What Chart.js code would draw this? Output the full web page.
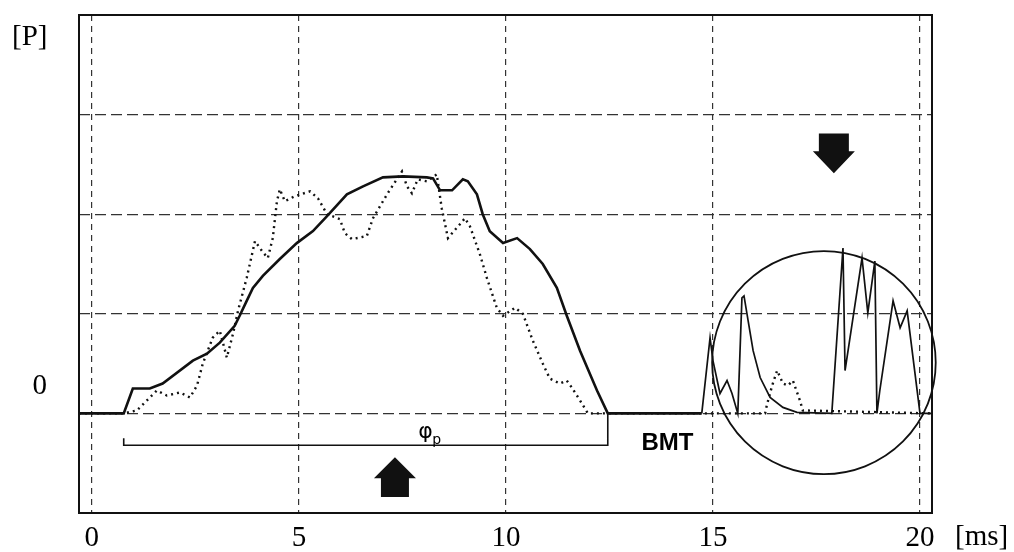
<!DOCTYPE html>
<html>
<head>
<meta charset="utf-8">
<script src="https://cdn.jsdelivr.net/npm/chart.js@4"></script>
<style>
body{margin:0;background:#fff}
#wrap{width:1014px;height:552px}
</style>
</head>
<body>
<div id="wrap"><canvas id="myChart"></canvas></div>
<script>
// time [ms] and pressure [P] (baseline = 0)
const solidT = [-0.31, 0.77, 0.99, 1.40, 1.71, 2.44, 2.78, 3.09, 3.45, 3.57, 3.74, 3.89, 4.13, 4.54, 4.95, 5.34, 5.68, 6.16, 6.55, 7.03, 7.51, 8.09, 8.24, 8.41, 8.70, 8.96, 9.08, 9.30, 9.44, 9.61, 9.93, 10.27, 10.58, 10.89, 11.23, 11.47, 11.79, 12.20, 12.46, 14.73, 14.93, 15.00, 15.17, 15.34, 15.46, 15.60, 15.70, 15.75, 15.85, 15.97, 16.14, 16.38, 16.69, 17.03, 17.87, 18.14, 18.19, 18.60, 18.74, 18.91, 18.96, 19.03, 19.35, 19.52, 19.69, 20.00, 20.29];
const solidP = [0, 0, 0.25, 0.25, 0.30, 0.53, 0.60, 0.71, 0.88, 0.98, 1.13, 1.26, 1.38, 1.55, 1.71, 1.83, 1.98, 2.20, 2.28, 2.37, 2.38, 2.37, 2.36, 2.24, 2.24, 2.35, 2.33, 2.20, 2.00, 1.83, 1.71, 1.76, 1.65, 1.50, 1.26, 0.98, 0.63, 0.23, 0, 0, 0.76, 0.53, 0.20, 0.33, 0.20, 0, 1.16, 1.18, 0.93, 0.63, 0.36, 0.16, 0.06, 0.01, 0, 1.66, 0.43, 1.56, 1.01, 1.53, 0, 0.23, 1.13, 0.86, 1.03, 0, 0];

const dotT = [-0.31, 0.77, 1.09, 1.33, 1.57, 1.81, 2.13, 2.37, 2.54, 2.68, 2.92, 3.09, 3.26, 3.41, 3.53, 3.74, 3.94, 4.11, 4.25, 4.37, 4.47, 4.54, 4.66, 4.90, 5.27, 5.46, 5.68, 5.99, 6.11, 6.28, 6.64, 6.79, 7.13, 7.49, 7.61, 7.73, 7.87, 8.09, 8.33, 8.45, 8.60, 8.89, 9.01, 9.13, 9.37, 9.54, 9.78, 9.93, 10.22, 10.41, 10.65, 10.89, 11.06, 11.30, 11.47, 11.59, 11.79, 11.98, 16.26, 16.30, 16.43, 16.55, 16.69, 16.81, 16.93, 17.10, 17.17, 20.29];
const dotP = [0, 0, 0.03, 0.13, 0.23, 0.18, 0.21, 0.16, 0.28, 0.50, 0.76, 0.83, 0.56, 0.80, 1.03, 1.36, 1.73, 1.63, 1.56, 1.76, 2.13, 2.25, 2.13, 2.18, 2.23, 2.16, 2.00, 1.95, 1.81, 1.75, 1.78, 1.96, 2.20, 2.43, 2.28, 2.21, 2.35, 2.33, 2.40, 2.06, 1.76, 1.90, 1.96, 1.88, 1.60, 1.36, 1.06, 0.98, 1.06, 1.00, 0.73, 0.50, 0.35, 0.30, 0.33, 0.26, 0.13, 0, 0, 0.08, 0.28, 0.43, 0.30, 0.28, 0.33, 0.13, 0.03, 0];

// phi_p bracket under the pulse
const phiT = [0.77, 0.77, 12.46, 12.46];
const phiP = [-0.25, -0.32, -0.32, 0];

const xTicks = [0, 5, 10, 15, 20];
const yTicks = [-1, 0, 1, 2, 3, 4];

const pts = (t, p) => t.map((v, i) => ({x: v, y: p[i]}));
const serif = 'Liberation Serif';

// frame, circle, arrows and the loose labels
const extras = {
  id: 'extras',
  afterDraw(chart) {
    const {ctx, chartArea: a, scales: {x, y}} = chart;
    ctx.save();
    ctx.strokeStyle = '#111';
    ctx.fillStyle = '#111';
    ctx.lineWidth = 2;
    ctx.strokeRect(a.left, a.top, a.right - a.left, a.bottom - a.top);

    // circle round the BMT part
    const cx = x.getPixelForValue(17.68), cy = y.getPixelForValue(0.51);
    const rx = x.getPixelForValue(17.68 + 2.7) - cx;
    const ry = cy - y.getPixelForValue(0.51 + 1.12);
    ctx.lineWidth = 1.8;
    ctx.beginPath();
    ctx.ellipse(cx, cy, rx, ry, 0, 0, Math.PI * 2);
    ctx.stroke();

    const arrow = (xv, tailV, tipV, bodyW, headW, headH) => {
      const px = x.getPixelForValue(xv);
      const tail = y.getPixelForValue(tailV), tip = y.getPixelForValue(tipV);
      const dir = tip < tail ? 1 : -1;
      const neck = tip + dir * headH;
      ctx.beginPath();
      ctx.moveTo(px, tip);
      ctx.lineTo(px + headW / 2, neck);
      ctx.lineTo(px + bodyW / 2, neck);
      ctx.lineTo(px + bodyW / 2, tail);
      ctx.lineTo(px - bodyW / 2, tail);
      ctx.lineTo(px - bodyW / 2, neck);
      ctx.lineTo(px - headW / 2, neck);
      ctx.closePath();
      ctx.fill();
    };
    arrow(7.32, -0.84, -0.44, 28, 42, 21);
    arrow(17.92, 2.81, 2.41, 30, 42, 22);

    ctx.fillStyle = '#000';
    ctx.textBaseline = 'middle';
    ctx.textAlign = 'left';
    ctx.font = '29px ' + serif;
    ctx.fillText('[P]', 12, 37);
    ctx.fillText('[ms]', x.getPixelForValue(20) + 35, 537);

    ctx.font = '22px DejaVu Sans';
    ctx.textAlign = 'center';
    ctx.fillText('φ', x.getPixelForValue(8.06), y.getPixelForValue(-0.19));
    ctx.font = '14px DejaVu Sans';
    ctx.fillText('p', x.getPixelForValue(8.33), y.getPixelForValue(-0.27));

    ctx.font = 'bold 24px Liberation Sans';
    ctx.fillText('BMT', x.getPixelForValue(13.9), y.getPixelForValue(-0.30));
    ctx.restore();
  }
};

const ctx = document.getElementById('myChart').getContext('2d');
const myChart = new Chart(ctx, {
  type: 'line',
  data: {
    datasets: [
      {
        label: 'pressure',
        data: pts(solidT, solidP),
        borderColor: '#111',
        borderWidth: 2.6,
        segment: {borderWidth: c => c.p0.parsed.x > 14 ? 1.7 : 2.6},
        pointRadius: 0,
        tension: 0
      },
      {
        label: 'reference',
        data: pts(dotT, dotP),
        borderColor: '#111',
        borderWidth: 2.4,
        borderDash: [2, 4],
        pointRadius: 0,
        tension: 0
      },
      {
        label: 'phi p',
        data: pts(phiT, phiP),
        borderColor: '#111',
        borderWidth: 1.6,
        pointRadius: 0,
        tension: 0
      }
    ]
  },
  options: {
    responsive: true,
    maintainAspectRatio: false,
    animation: false,
    layout: {padding: {top: 15, right: 82, left: 0, bottom: 0}},
    plugins: {legend: {display: false}, tooltip: {enabled: false}},
    scales: {
      x: {
        type: 'linear',
        min: -0.31,
        max: 20.29,
        afterBuildTicks: s => { s.ticks = xTicks.map(v => ({value: v})); },
        afterFit: s => { s.height = 39; s.paddingLeft = 0; s.paddingRight = 0; },
        grid: {color: '#333', lineWidth: 1.2, drawTicks: false},
        border: {display: false, dash: [6, 5]},
        ticks: {
          padding: 8,
          autoSkip: false,
          maxRotation: 0,
          color: '#000',
          font: {family: serif, size: 29}
        }
      },
      y: {
        min: -1,
        max: 4,
        afterBuildTicks: s => { s.ticks = yTicks.map(v => ({value: v})); },
        afterFit: s => { s.width = 79; s.paddingTop = 0; s.paddingBottom = 0; },
        grid: {color: '#333', lineWidth: 1.2, drawTicks: false},
        border: {display: false, dash: [11, 5]},
        ticks: {
          padding: 32,
          labelOffset: -27,
          color: '#000',
          font: {family: serif, size: 29},
          callback: v => v === 0 ? '0' : ''
        }
      }
    }
  },
  plugins: [extras]
});
</script>
</body>
</html>
